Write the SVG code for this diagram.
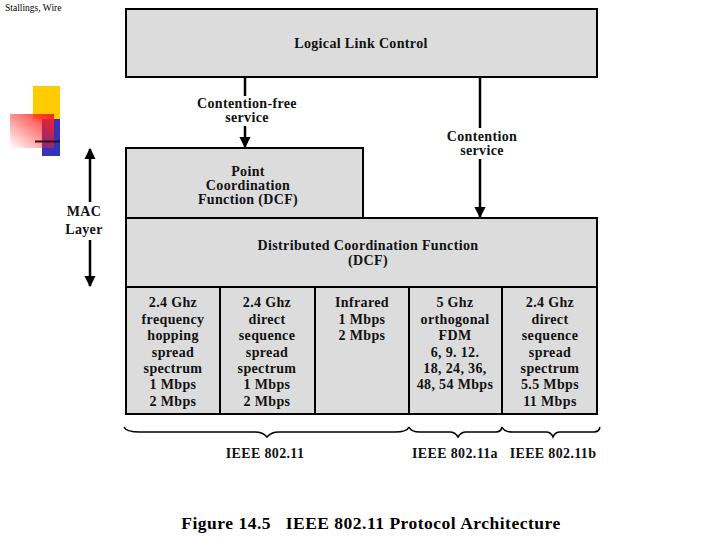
<svg xmlns="http://www.w3.org/2000/svg" width="720" height="540" viewBox="0 0 720 540">
<defs>
<style>
.box{fill:#dcdcdc;stroke:#000;stroke-width:2}
.t{font-family:"Liberation Serif","Times New Roman",serif;font-weight:bold;font-size:14px;letter-spacing:0.35px;text-anchor:middle;fill:#111}
.ln{stroke:#000;stroke-width:2.5;fill:none}
.br{stroke:#000;stroke-width:1.5;fill:none}
</style>
<marker id="ah" viewBox="0 0 10 10" refX="9" refY="5" markerWidth="4.5" markerHeight="5" orient="auto-start-reverse" markerUnits="strokeWidth">
<path d="M0,0 L10,5 L0,10 z" fill="#000"/>
</marker>
<linearGradient id="rg" x1="1" y1="0" x2="0" y2="1">
<stop offset="0" stop-color="#ff2020"/>
<stop offset="1" stop-color="#ff2020" stop-opacity="0"/>
</linearGradient>
</defs>
<rect width="720" height="540" fill="#fff"/>
<text x="5" y="11" font-family="Liberation Serif,serif" font-size="9.5" fill="#000">Stallings, Wire</text>
<g id="decor">
<rect x="33" y="86" width="27" height="33" fill="#ffcc00"/>
<rect x="42" y="119" width="18" height="37" fill="#3333bb"/>
<rect x="10" y="114" width="44" height="34" fill="url(#rg)"/>
<line x1="35" y1="141.5" x2="60" y2="141.5" stroke="#301010" stroke-width="2"/>
</g>
<g id="llc"><rect class="box" x="126" y="9" width="471" height="68"/><text class="t" x="361" y="48">Logical Link Control</text></g>
<g id="pcf"><rect class="box" x="126" y="148" width="237" height="70"/>
<text class="t" x="248" y="176">Point</text><text class="t" x="248" y="190">Coordination</text><text class="t" x="248" y="204">Function (DCF)</text></g>
<g id="dcf"><rect class="box" x="126" y="218" width="471" height="69"/>
<text class="t" x="368" y="250">Distributed Coordination Function</text><text class="t" x="368" y="265">(DCF)</text></g>
<g id="phy1"><rect class="box" x="126" y="287" width="94" height="127"/>
<text class="t" x="173" y="307">2.4 Ghz</text><text class="t" x="173" y="324">frequency</text><text class="t" x="173" y="340">hopping</text><text class="t" x="173" y="357">spread</text><text class="t" x="173" y="373">spectrum</text><text class="t" x="173" y="389">1 Mbps</text><text class="t" x="173" y="406">2 Mbps</text></g>
<g id="phy2"><rect class="box" x="220" y="287" width="95" height="127"/>
<text class="t" x="267" y="307">2.4 Ghz</text><text class="t" x="267" y="324">direct</text><text class="t" x="267" y="340">sequence</text><text class="t" x="267" y="357">spread</text><text class="t" x="267" y="373">spectrum</text><text class="t" x="267" y="389">1 Mbps</text><text class="t" x="267" y="406">2 Mbps</text></g>
<g id="phy3"><rect class="box" x="315" y="287" width="94" height="127"/>
<text class="t" x="362" y="307">Infrared</text><text class="t" x="362" y="324">1 Mbps</text><text class="t" x="362" y="340">2 Mbps</text></g>
<g id="phy4"><rect class="box" x="409" y="287" width="93" height="127"/>
<text class="t" x="455" y="307">5 Ghz</text><text class="t" x="455" y="324">orthogonal</text><text class="t" x="455" y="340">FDM</text><text class="t" x="455" y="357">6, 9. 12.</text><text class="t" x="455" y="373">18, 24, 36,</text><text class="t" x="455" y="389">48, 54 Mbps</text></g>
<g id="phy5"><rect class="box" x="502" y="287" width="95" height="127"/>
<text class="t" x="550" y="307">2.4 Ghz</text><text class="t" x="550" y="324">direct</text><text class="t" x="550" y="340">sequence</text><text class="t" x="550" y="357">spread</text><text class="t" x="550" y="373">spectrum</text><text class="t" x="550" y="389">5.5 Mbps</text><text class="t" x="550" y="406">11 Mbps</text></g>
<g id="connectors">
<line class="ln" x1="245" y1="77" x2="245" y2="96"/>
<line class="ln" x1="245" y1="126" x2="245" y2="147" marker-end="url(#ah)"/>
<line class="ln" x1="480" y1="77" x2="480" y2="128"/>
<line class="ln" x1="480" y1="159" x2="480" y2="217" marker-end="url(#ah)"/>
<line class="ln" x1="90" y1="202" x2="90" y2="149" marker-end="url(#ah)"/>
<line class="ln" x1="90" y1="240" x2="90" y2="286" marker-end="url(#ah)"/>
</g>
<text class="t" x="247" y="108">Contention-free</text><text class="t" x="247" y="122">service</text>
<text class="t" x="482" y="141">Contention</text><text class="t" x="482" y="155">service</text>
<text class="t" x="84" y="216" font-size="14.5">MAC</text><text class="t" x="84" y="234" font-size="14.5">Layer</text>
<g id="braces">
<path class="br" d="M124,427 Q126,432 140,432 L255,432 Q263,432 267,437 Q271,432 279,432 L395,432 Q407,432 409,427"/>
<path class="br" d="M409,427 Q411,432 420,432 L450,432 Q455,432 458,437 Q461,432 466,432 L496,432 Q501,432 502,427"/>
<path class="br" d="M502,427 Q504,432 512,432 L546,432 Q551,432 553,437 Q555,432 560,432 L594,432 Q599,432 600,427"/>
</g>
<text class="t" x="265" y="458">IEEE 802.11</text>
<text class="t" x="455" y="458">IEEE 802.11a</text>
<text class="t" x="553" y="458">IEEE 802.11b</text>
<text x="371" y="529" font-family="Liberation Serif,serif" font-weight="bold" font-size="17.5" letter-spacing="0.5" text-anchor="middle" xml:space="preserve">Figure 14.5   IEEE 802.11 Protocol Architecture</text>
</svg>
